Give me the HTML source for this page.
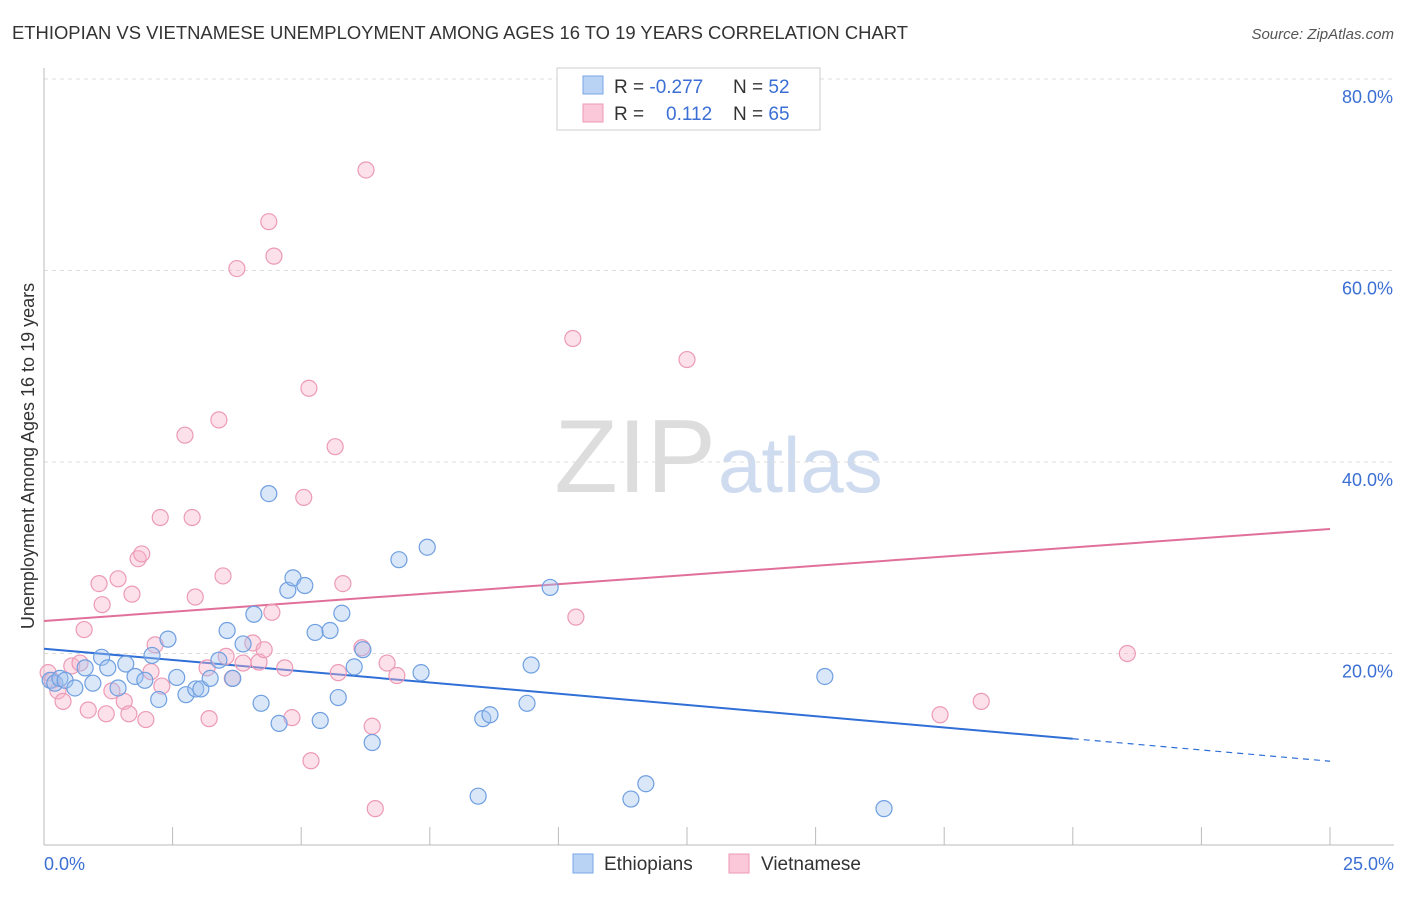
<!DOCTYPE html>
<html><head><meta charset="utf-8"><style>
body{margin:0;background:#fff;font-family:"Liberation Sans",sans-serif}
svg text{font-family:"Liberation Sans",sans-serif}
</style></head><body>
<svg id="chart" width="1406" height="892">
<text x="12" y="39" font-size="18.5" fill="#333" textLength="896" lengthAdjust="spacingAndGlyphs">ETHIOPIAN VS VIETNAMESE UNEMPLOYMENT AMONG AGES 16 TO 19 YEARS CORRELATION CHART</text>
<text x="1394" y="39" font-size="15" fill="#555" text-anchor="end" font-style="italic">Source: ZipAtlas.com</text>
<text x="716" y="492" font-size="104" fill="#ddd" text-anchor="end" font-family="Liberation Serif">ZIP</text>
<text x="718" y="492" font-size="78" fill="#cfdcf0">atlas</text>
<g id="grid"></g><g id="axes"></g><g id="lines"></g><g id="pts"></g>
<text transform="translate(34,456) rotate(-90)" font-size="18" fill="#333" text-anchor="middle">Unemployment Among Ages 16 to 19 years</text>
<g>
<rect x="557" y="68" width="263" height="62" fill="#fff" stroke="#ccc"/>
<rect x="583" y="76" width="20" height="18" fill="#b9d3f5" stroke="#7aa6e6"/>
<rect x="583" y="104" width="20" height="18" fill="#fac8d8" stroke="#ee9ab5"/>
<text x="614" y="93" font-size="19" fill="#333">R = <tspan fill="#3b6fd4">-0.277</tspan><tspan x="733">N = </tspan><tspan fill="#3b6fd4">52</tspan></text>
<text x="614" y="120" font-size="19" fill="#333">R = <tspan x="666" fill="#3b6fd4">0.112</tspan><tspan x="733">N = </tspan><tspan fill="#3b6fd4">65</tspan></text>
</g>
<g>
<rect x="573" y="854" width="20" height="19" fill="#b9d3f5" stroke="#7aa6e6"/>
<text x="604" y="870" font-size="19" fill="#333">Ethiopians</text>
<rect x="729" y="854" width="20" height="19" fill="#fac8d8" stroke="#ee9ab5"/>
<text x="761" y="870" font-size="19" fill="#333">Vietnamese</text>
</g>
</svg>
<script>
const blueX=[0.12,0.21,0.31,0.41,0.6,0.8,0.95,1.12,1.24,1.44,1.59,1.77,1.96,2.1,2.23,2.41,2.58,2.76,2.95,3.05,3.23,3.4,3.56,3.67,3.87,4.08,4.22,4.37,4.57,4.74,4.84,5.07,5.27,5.37,5.56,5.72,5.79,6.03,6.2,6.38,6.9,7.33,7.45,8.44,8.53,8.67,9.39,9.47,9.84,11.41,11.7,15.18,16.33];
const blueY=[17.2,16.9,17.4,17.2,16.4,18.5,16.9,19.6,18.5,16.4,18.9,17.6,17.2,19.8,15.2,21.5,17.5,15.7,16.3,16.3,17.4,19.3,22.4,17.4,21.0,24.1,14.8,36.7,12.7,26.6,27.9,27.1,22.2,13.0,22.4,15.4,24.2,18.6,20.4,10.7,29.8,18.0,31.1,5.1,13.2,13.6,14.8,18.8,26.9,4.8,6.4,17.6,3.8];
const pinkX=[0.08,0.16,0.27,0.37,0.54,0.7,0.78,0.86,1.07,1.13,1.21,1.32,1.44,1.56,1.65,1.71,1.83,1.9,1.98,2.08,2.16,2.26,2.29,2.74,2.88,2.94,3.17,3.21,3.4,3.48,3.54,3.75,3.66,3.87,4.06,4.18,4.28,4.37,4.43,4.47,4.68,4.82,5.05,5.15,5.19,5.66,5.72,5.81,6.18,6.26,6.38,6.44,6.67,6.86,10.28,10.34,12.5,17.42,18.22,21.06];
const pinkY=[18.0,17.2,16.1,15.0,18.7,19.0,22.5,14.1,27.3,25.1,13.7,16.1,27.8,15.0,13.7,26.2,29.9,30.4,13.1,18.1,20.9,34.2,16.6,42.8,34.2,25.9,18.5,13.2,44.4,28.1,19.7,60.2,17.4,19.0,21.1,19.1,20.4,65.1,24.3,61.5,18.5,13.3,36.3,47.7,8.8,41.6,18.0,27.3,20.6,70.5,12.4,3.8,19.0,17.7,52.9,23.8,50.7,13.6,15.0,20.0];
const xTicks=[0,2.5,5,7.5,10,12.5,15,17.5,20,22.5,25];
const yTicks=[20,40,60,80];
const yTickLabels=["20.0%","40.0%","60.0%","80.0%"];
const blueTrend=[20.5,11.1];
const pinkTrend=[23.4,33.0];
const X=v=>44+v*51.44, Y=v=>845-v*9.575;
const NS="http://www.w3.org/2000/svg";
function mk(t,a,p){const e=document.createElementNS(NS,t);for(const k in a)e.setAttribute(k,a[k]);p.appendChild(e);return e;}
const g=document.getElementById('grid'),ax=document.getElementById('axes'),ln=document.getElementById('lines'),pt=document.getElementById('pts');
yTicks.forEach((v,i)=>{
 const l=mk('line',{x1:44,x2:1394,y1:Y(v),y2:Y(v),stroke:'#ddd','stroke-dasharray':'4,4'},g);
 
 
 const t=mk('text',{x:1393,y:Y(v)+24,'font-size':18,fill:'#3b6fd4','text-anchor':'end'},ax);t.textContent=yTickLabels[i];
 
 
});
const ya=mk('line',{x1:44,x2:44,y1:68,y2:845,stroke:'#bbb'},ax);


const xa=mk('line',{x1:44,x2:1394,y1:845,y2:845,stroke:'#bbb'},ax);


xTicks.forEach(v=>{const t=mk('line',{x1:X(v),x2:X(v),y1:827,y2:845,stroke:'#bbb'},ax);
 
 });
const x0=mk('text',{x:44,y:870,'font-size':18,fill:'#3b6fd4'},ax);x0.textContent='0.0%';


const x1=mk('text',{x:1394,y:870,'font-size':18,fill:'#3b6fd4','text-anchor':'end'},ax);x1.textContent='25.0%';


const slopeB=(blueTrend[1]-blueTrend[0])/20;
const bl=mk('line',{x1:X(0),y1:Y(blueTrend[0]),x2:X(20),y2:Y(blueTrend[1]),stroke:'#2f6fd6','stroke-width':2},ln);


const bd=mk('line',{x1:X(20),y1:Y(blueTrend[1]),x2:X(25),y2:Y(blueTrend[0]+slopeB*25),stroke:'#2f6fd6','stroke-width':1.2,'stroke-dasharray':'6,5'},ln);


const pl=mk('line',{x1:X(0),y1:Y(pinkTrend[0]),x2:X(25),y2:Y(pinkTrend[1]),stroke:'#e0709a','stroke-width':2},ln);


pinkX.forEach((v,i)=>{const c=mk('circle',{cx:X(v),cy:Y(pinkY[i]),r:8,fill:'rgba(248,180,202,0.4)',stroke:'#ec9ab6','stroke-width':1.2},pt);
 
 });
blueX.forEach((v,i)=>{const c=mk('circle',{cx:X(v),cy:Y(blueY[i]),r:8,fill:'rgba(160,195,240,0.4)',stroke:'#6f9fe0','stroke-width':1.2},pt);
 
 });
</script>
</body></html>
